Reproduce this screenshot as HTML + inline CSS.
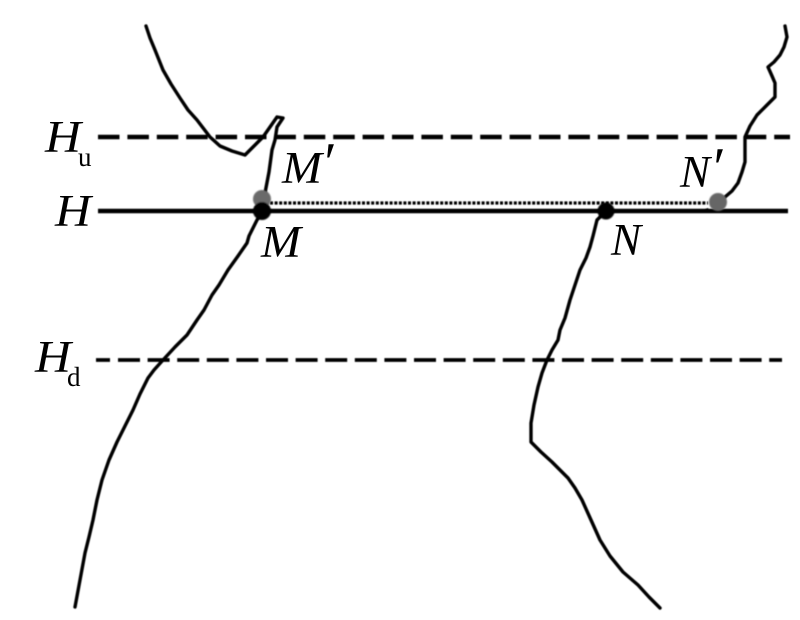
<!DOCTYPE html>
<html>
<head>
<meta charset="utf-8">
<style>
html,body{margin:0;padding:0;background:#fff;width:800px;height:620px;overflow:hidden}
svg{display:block}
text{font-family:"Liberation Serif",serif;fill:#000}
.i{font-style:italic;font-size:45px}
.p{font-style:italic;font-size:56px}
.s{font-size:27px}
.c{fill:none;stroke:#000;stroke-width:3.4;stroke-linejoin:round;stroke-linecap:round}
</style>
</head>
<body>
<svg width="800" height="620" viewBox="0 0 800 620" xmlns="http://www.w3.org/2000/svg">
<defs><filter id="b" x="-5%" y="-5%" width="110%" height="110%"><feGaussianBlur stdDeviation="0.45"/></filter><filter id="t" x="-5%" y="-5%" width="110%" height="110%"><feGaussianBlur stdDeviation="0.25"/></filter><filter id="bb" x="-30%" y="-30%" width="160%" height="160%"><feGaussianBlur stdDeviation="0.9"/></filter></defs>
<g filter="url(#b)">
<line x1="98" y1="137" x2="790" y2="137" stroke="#000" stroke-width="4.4" stroke-dasharray="21.5 7.9"/>
<line x1="98" y1="211" x2="788" y2="211" stroke="#000" stroke-width="4.4"/>
<line x1="96" y1="360" x2="782" y2="360" stroke="#000" stroke-width="3.8" stroke-dasharray="14 8 22 7.6 22 7.6 22 7.6 22 7.6 22 7.6 22 7.6 22 7.6 22 7.6 22 7.6 22 7.6 22 7.6 22 7.6 22 7.6 22 7.6 22 7.6 22 7.6 22 7.6 22 7.6 22 7.6 22 7.6 22 7.6 22 7.6 22"/>
<line x1="270" y1="203" x2="708" y2="203" stroke="#000" stroke-width="3.2" stroke-dasharray="3 1.6"/>
<path class="c" d="M146 26L150 38L155 50L163 70L171 84L180 98L188 110L197 120L210 137L220 146L232 151L245 155L254 146L263 137L270 127L277 117L283 118L277 127L275 140L272 150L269 172L265 193L263 210"/>
<path class="c" d="M262 212L257 220L249 236L247 243L238 256L228 270L219 285L212 295L204 310L197 320L187 335L175 347L163 360L154 370L148 378L140 394L133 410L125 426L117 442L109 460L102 480L97 500L93 520L89 537L85 553L80 580L75 607"/>
<path class="c" d="M785 26L787 37L784 47L780 55L774 62L768 67L772 76L775 83L775 97L766 106L757 115L750 126L745 137L745 162L742 172L738 183L732 191L725 197"/>
<path class="c" d="M602 215L597 220L593 236L590 247L586 258L580 270L575 285L570 300L565 318L560 330L558 340L552 350L547 360L542 373L538 387L534 405L531 423L531 442L541 452L552 462L568 478L575 488L582 500L591 520L600 540L610 556L623 572L638 585L649 597L660 608"/>
<path d="M698 211L708 208L710 212Z" fill="#000"/>
</g>
<g filter="url(#t)">
<text class="i" x="45" y="152" textLength="36" lengthAdjust="spacingAndGlyphs">H</text>
<text class="s" x="78" y="166">u</text>
<text class="i" x="55" y="226" textLength="36" lengthAdjust="spacingAndGlyphs">H</text>
<text class="i" x="35" y="372" textLength="36" lengthAdjust="spacingAndGlyphs">H</text>
<text class="s" x="67" y="386">d</text>
<text class="i" x="282" y="183" textLength="40" lengthAdjust="spacingAndGlyphs">M</text>
<text class="p" x="321" y="181">′</text>
<text class="i" x="261" y="257" textLength="40" lengthAdjust="spacingAndGlyphs">M</text>
<text class="i" x="680" y="187">N</text>
<text class="p" x="710" y="186">′</text>
<text class="i" x="611" y="255">N</text>
</g>
<g filter="url(#bb)">
<circle cx="262" cy="199" r="9" fill="#6a6a6a"/>
<circle cx="262" cy="211" r="9" fill="#000"/>
<circle cx="606" cy="211" r="8.5" fill="#000"/>
<circle cx="718" cy="202" r="9" fill="#666"/>
</g>
</svg>
</body>
</html>
